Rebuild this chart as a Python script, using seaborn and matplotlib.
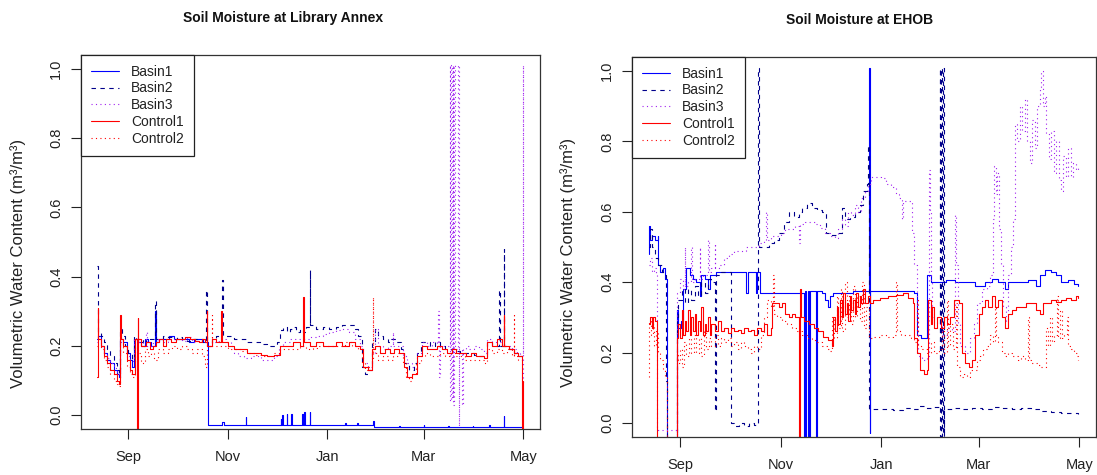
import matplotlib
matplotlib.use("Agg")
import matplotlib.pyplot as plt
import pandas as pd
import seaborn as sns
from matplotlib.lines import Line2D

sns.set_theme(style="ticks")
plt.rcParams["font.family"] = ["Liberation Sans", "DejaVu Sans"]

# ---------------- data (day offset from 2016-08-13, volumetric water content) -------------
START = pd.Timestamp("2016-08-13")
sensors = ["Basin1", "Basin2", "Basin3", "Control1", "Control2"]
month_ticks = ["2016-09-01", "2016-11-01", "2017-01-01", "2017-03-01", "2017-05-01"]
month_labels = ["Sep", "Nov", "Jan", "Mar", "May"]
y_ticks = [0.0, 0.2, 0.4, 0.6, 0.8, 1.0]

lib_basin1 = [(0, 0.22), (0.5, 0.23), (2, 0.20), (4, 0.18), (6, 0.16), (8, 0.15), (10, 0.13), (12, 0.12),
              (13.5, 0.11), (14, 0.22), (16, 0.21), (18, 0.18), (20, 0.16), (21.5, 0.14), (22.5, 0.22),
              (25, 0.21), (27, 0.20), (29, 0.22), (31, 0.21), (33, 0.20), (35.5, 0.30), (35.8, 0.21),
              (38, 0.22), (41, 0.22), (44, 0.23), (47, 0.22), (50, 0.22), (53, 0.22), (56, 0.21),
              (59, 0.22), (62, 0.22), (65, 0.21), (67.9, -0.028), (76.5, -0.02), (77.5, -0.028),
              (90.8, -0.006), (91.2, -0.028), (112.3, -0.01), (112.6, -0.028), (113.3, 0.0),
              (113.7, -0.028), (116, 0.004), (116.4, -0.028), (118.8, 0.004), (119.2, -0.028),
              (125.5, 0.004), (125.9, -0.028), (126.6, 0.01), (127, -0.028), (130.2, 0.01),
              (130.6, -0.028), (151.7, -0.022), (152.1, -0.028), (159.3, -0.024), (159.7, -0.028),
              (169, -0.018), (169.4, -0.034), (185, -0.03), (185.5, -0.034), (200, -0.029),
              (200.4, -0.034), (215, -0.03), (215.4, -0.034), (230, -0.03), (230.4, -0.034),
              (240, -0.028), (240.4, -0.034), (249, -0.003), (249.4, -0.034), (260, -0.034)]

lib_basin2 = [(0, 0.43), (0.4, 0.24), (2, 0.23), (4, 0.21), (6, 0.19), (8, 0.17), (10, 0.15), (12, 0.13),
              (13.5, 0.12), (14, 0.25), (15, 0.23), (17, 0.20), (19, 0.18), (21, 0.16), (22.5, 0.23),
              (24, 0.22), (26, 0.21), (28, 0.22), (30, 0.21), (32, 0.22), (35.5, 0.33), (35.9, 0.22),
              (38, 0.22), (40, 0.23), (43, 0.225), (46, 0.22), (49, 0.225), (52, 0.22), (55, 0.215),
              (58, 0.22), (61, 0.22), (64, 0.21), (66.7, 0.36), (67.1, 0.20), (70, 0.22), (73, 0.23),
              (76.5, 0.39), (76.9, 0.23), (80, 0.23), (84, 0.22), (88, 0.22), (92, 0.21), (96, 0.21),
              (100, 0.205), (104, 0.20), (108, 0.20), (110, 0.21), (112, 0.245), (114, 0.255),
              (116, 0.24), (118, 0.25), (120, 0.255), (122, 0.24), (124, 0.25), (126, 0.24),
              (128, 0.255), (130, 0.42), (130.4, 0.26), (134, 0.25), (138, 0.255), (142, 0.25),
              (146, 0.255), (150, 0.26), (154, 0.26), (158, 0.25), (160, 0.23), (162, 0.14),
              (164, 0.12), (166, 0.13), (168, 0.21), (170, 0.25), (172, 0.23), (175, 0.22),
              (178, 0.21), (180, 0.22), (183, 0.21), (186, 0.19), (188, 0.15), (191, 0.13),
              (194, 0.15), (196, 0.18), (198, 0.21), (201, 0.21), (204, 0.20), (207, 0.21),
              (210, 0.20), (213, 0.19), (216, 0.19), (219, 0.185), (222, 0.18), (225, 0.18),
              (228, 0.18), (231, 0.175), (234, 0.17), (237, 0.175), (239, 0.21), (242, 0.20),
              (245, 0.20), (246, 0.36), (246.4, 0.20), (249, 0.48), (249.4, 0.20), (252, 0.19),
              (255, 0.18), (258, 0.17), (260, 0.16)]

lib_basin3 = [(0, 0.21), (2, 0.20), (4, 0.18), (6, 0.165), (8, 0.15), (10, 0.135), (12, 0.12),
              (13.5, 0.11), (14, 0.21), (16, 0.20), (18, 0.17), (20, 0.155), (22.5, 0.22), (25, 0.21),
              (28, 0.20), (30, 0.24), (30.4, 0.20), (34, 0.21), (37, 0.22), (40, 0.21), (43, 0.22),
              (46, 0.22), (49, 0.22), (52, 0.215), (55, 0.225), (58, 0.21), (61, 0.215), (64, 0.21),
              (67, 0.20), (70, 0.21), (73, 0.215), (76, 0.22), (79, 0.21), (82, 0.20), (84, 0.18),
              (86, 0.17), (90, 0.165), (94, 0.17), (97, 0.17), (100, 0.16), (104, 0.16), (108, 0.17),
              (111, 0.20), (114, 0.21), (118, 0.22), (122, 0.22), (126, 0.22), (130, 0.225),
              (134, 0.23), (138, 0.235), (142, 0.24), (146, 0.245), (150, 0.25), (154, 0.24),
              (158, 0.22), (161, 0.20), (163, 0.15), (166, 0.14), (168, 0.18), (170, 0.25),
              (172, 0.20), (175, 0.19), (178, 0.20), (181, 0.24), (181.4, 0.20), (184, 0.20),
              (187, 0.17), (190, 0.15), (193, 0.14), (196, 0.18), (199, 0.21), (202, 0.20),
              (205, 0.21), (208, 0.20), (209, 0.30), (209.4, 0.11), (209.8, 0.20), (213, 0.20),
              (216, 1.01), (216.3, 0.04), (216.7, 1.01), (217.1, 0.05), (217.6, 1.01), (218, 0.03),
              (218.5, 1.01), (218.9, 0.19), (221, 1.01), (221.3, -0.03), (221.7, 0.19), (223.5, 0.03),
              (223.8, 0.19), (226, 0.20), (228, 0.19), (231, 0.20), (234, 0.19), (237, 0.18),
              (239, 0.22), (242, 0.21), (245, 0.21), (248, 0.20), (251, 0.20), (254, 0.19),
              (257, 0.18), (259, 0.17), (260.5, 1.01), (260.8, 0.09), (261.2, 0.09)]

lib_control1 = [(0, 0.11), (0.3, 0.31), (0.7, 0.22), (2, 0.20), (4, 0.17), (6, 0.15), (8, 0.13), (10, 0.12),
                (12, 0.10), (13.5, 0.09), (14, 0.29), (14.4, 0.22), (16, 0.20), (18, 0.16), (20, 0.13),
                (21.5, 0.12), (23, 0.22), (24.5, -0.05), (24.8, 0.28), (25.2, 0.22), (27, 0.20),
                (30, 0.21), (32, 0.19), (34, 0.20), (36, 0.21), (38, 0.22), (40, 0.20), (42, 0.22),
                (45, 0.21), (48, 0.22), (51, 0.22), (54, 0.225), (57, 0.22), (60, 0.215), (62, 0.21),
                (64, 0.22), (66, 0.21), (67, 0.30), (67.4, 0.20), (70, 0.22), (73, 0.21), (76, 0.30),
                (76.4, 0.21), (80, 0.20), (84, 0.19), (88, 0.19), (92, 0.18), (96, 0.18), (100, 0.175),
                (104, 0.17), (108, 0.175), (112, 0.20), (116, 0.20), (120, 0.21), (124, 0.20),
                (126, 0.34), (126.4, 0.21), (130, 0.20), (134, 0.21), (138, 0.20), (142, 0.20),
                (146, 0.21), (150, 0.20), (154, 0.21), (158, 0.20), (161, 0.19), (163, 0.14),
                (166, 0.13), (168, 0.19), (170, 0.20), (173, 0.18), (176, 0.19), (179, 0.18),
                (182, 0.19), (185, 0.18), (188, 0.14), (190, 0.11), (193, 0.12), (196, 0.17),
                (199, 0.20), (202, 0.19), (205, 0.19), (208, 0.20), (211, 0.19), (214, 0.18),
                (217, 0.19), (220, 0.18), (223, 0.18), (226, 0.17), (229, 0.18), (232, 0.17),
                (235, 0.17), (237, 0.165), (239, 0.21), (242, 0.20), (245, 0.22), (248, 0.20),
                (249, 0.29), (249.4, 0.20), (252, 0.19), (255, 0.18), (258, 0.17), (260.3, -0.05),
                (260.6, 0.10), (261, 0.10)]

lib_control2 = [(0, 0.20), (2, 0.19), (4, 0.16), (6, 0.14), (8, 0.12), (10, 0.10), (12, 0.09),
                (13.5, 0.083), (14, 0.20), (16, 0.18), (18, 0.14), (20, 0.12), (21.5, 0.11), (23, 0.20),
                (25, 0.18), (27, 0.15), (29, 0.19), (31, 0.17), (33, 0.18), (35, 0.16), (37, 0.19),
                (40, 0.18), (43, 0.19), (46, 0.20), (49, 0.19), (52, 0.20), (55, 0.19), (58, 0.18),
                (61, 0.19), (64, 0.17), (66, 0.14), (67, 0.20), (70, 0.29), (70.4, 0.20), (73, 0.20),
                (76, 0.20), (80, 0.19), (84, 0.19), (88, 0.185), (92, 0.18), (96, 0.175), (100, 0.17),
                (104, 0.17), (108, 0.18), (112, 0.19), (116, 0.19), (120, 0.19), (124, 0.20),
                (128, 0.19), (132, 0.195), (136, 0.20), (140, 0.20), (144, 0.20), (148, 0.20),
                (152, 0.21), (156, 0.20), (160, 0.19), (162, 0.15), (164, 0.13), (166, 0.14),
                (168, 0.16), (168.7, 0.34), (169.1, 0.18), (172, 0.16), (175, 0.17), (178, 0.16),
                (181, 0.17), (184, 0.18), (187, 0.15), (189, 0.11), (191, 0.10), (193, 0.12),
                (195, 0.15), (198, 0.17), (201, 0.18), (204, 0.17), (207, 0.17), (210, 0.18),
                (213, 0.17), (216, 0.18), (219, 0.17), (222, 0.17), (225, 0.16), (228, 0.16),
                (231, 0.16), (234, 0.16), (237, 0.15), (239, 0.19), (242, 0.18), (245, 0.19),
                (248, 0.18), (251, 0.19), (254, 0.17), (255, 0.29), (255.4, 0.17), (258, 0.16),
                (260, 0.15)]

ehob_basin1 = [(0, 0.48), (0.5, 0.56), (1, 0.52), (2, 0.53), (4, 0.52), (5.5, 0.53), (6, 0.45), (7, 0.43),
               (8.5, 0.44), (10, 0.41), (11, -0.05), (17, 0.32), (18, 0.27), (19.5, 0.29), (21, 0.38),
               (23, 0.44), (25, 0.42), (27, 0.41), (29, 0.40), (31, 0.36), (32, 0.42), (34, 0.41),
               (36, 0.38), (37, 0.42), (39, 0.42), (41, 0.43), (44, 0.43), (48, 0.43), (52, 0.43),
               (56, 0.43), (59, 0.37), (60, 0.43), (63, 0.43), (65, 0.37), (66, 0.43), (67.3, 0.37),
               (72, 0.37), (78, 0.37), (84, 0.37), (90, 0.37), (94.5, -0.05), (95, 0.375),
               (95.6, -0.05), (96.4, 0.375), (97, -0.05), (97.6, 0.375), (101.5, -0.05), (102, 0.375),
               (105, 0.37), (107, 0.35), (108.5, 0.33), (110, 0.36), (112, 0.37), (118, 0.37),
               (124, 0.375), (130, 0.375), (133.7, 1.01), (134, -0.03), (134.4, 0.375), (140, 0.375),
               (146, 0.375), (152, 0.375), (158, 0.375), (161, 0.37), (162.5, 0.25), (165, 0.24),
               (168.5, 0.24), (169, 0.42), (171, 0.40), (175, 0.40), (180, 0.405), (186, 0.40),
               (192, 0.40), (198, 0.39), (204, 0.40), (208, 0.41), (212, 0.40), (216, 0.38),
               (218, 0.40), (224, 0.40), (230, 0.405), (235, 0.39), (237, 0.42), (240, 0.435),
               (244, 0.43), (247, 0.42), (250, 0.40), (254, 0.405), (258, 0.395), (260.5, 0.39)]

ehob_basin2 = [(0, 0.50), (1, 0.55), (2, 0.50), (4, 0.47), (6, 0.45), (8, 0.43), (10, 0.42), (10.8, 0.12),
               (11.2, -0.05), (17, 0.30), (18, 0.35), (20, 0.38), (22, 0.34), (24, 0.38), (26, 0.35),
               (28, 0.39), (30, 0.36), (32, 0.40), (34, 0.37), (36, 0.41), (38, 0.40), (40.5, 0.035),
               (41, 0.42), (44, 0.43), (47, 0.43), (49.8, 0.0), (52, -0.01), (55, 0.0), (58, -0.01),
               (61, 0.0), (64, -0.005), (66.5, 1.01), (67, 0.50), (70, 0.50), (73, 0.51), (76, 0.52),
               (79, 0.54), (82, 0.57), (85, 0.60), (88, 0.585), (91, 0.60), (93, 0.61), (96, 0.625),
               (99, 0.61), (102, 0.605), (105, 0.60), (107.5, 0.54), (110, 0.535), (114, 0.54),
               (117, 0.61), (119, 0.58), (122, 0.585), (125, 0.60), (128, 0.62), (130, 0.66),
               (132.5, 0.68), (133.3, 0.79), (133.6, 0.04), (136, 0.04), (142, 0.04), (148, 0.038),
               (154, 0.042), (160, 0.04), (164, 0.047), (168, 0.042), (172, 0.044), (176.5, 1.01),
               (176.8, -0.05), (177.3, 1.01), (177.6, -0.05), (178.5, 1.01), (178.8, -0.05),
               (179.2, 0.04), (184, 0.042), (190, 0.04), (196, 0.043), (202, 0.041), (208, 0.045),
               (214, 0.043), (220, 0.04), (226, 0.043), (232, 0.04), (238, 0.035), (244, 0.032),
               (250, 0.027), (256, 0.028), (260.5, 0.025)]

ehob_basin3 = [(0, 0.45), (1, 0.47), (2, 0.43), (3.5, 0.44), (4.8, 0.42), (5, -0.02), (11, -0.02), (17, 0.37),
               (19, 0.41), (21, 0.38), (22, 0.50), (22.4, 0.39), (24, 0.40), (26, 0.50), (26.4, 0.40),
               (28, 0.41), (31, 0.50), (31.4, 0.41), (33, 0.42), (36, 0.52), (36.4, 0.43), (38, 0.44),
               (40, 0.51), (40.4, 0.44), (43, 0.45), (46, 0.47), (49, 0.48), (52, 0.49), (55, 0.49),
               (59, 0.50), (63, 0.50), (67, 0.51), (70, 0.52), (71.5, 0.60), (71.9, 0.52), (74, 0.53),
               (77, 0.53), (80, 0.54), (83, 0.55), (86, 0.55), (89, 0.56), (91.5, 0.51), (92, 0.565),
               (95, 0.57), (98, 0.57), (101, 0.565), (104, 0.555), (107, 0.54), (110, 0.53),
               (113, 0.525), (115, 0.55), (117, 0.58), (119, 0.56), (121, 0.60), (123, 0.59),
               (125, 0.62), (127, 0.60), (129, 0.64), (131, 0.66), (133, 0.68), (135, 0.70),
               (138, 0.70), (141, 0.695), (144, 0.68), (147, 0.67), (150, 0.65), (152, 0.64),
               (153.7, 0.58), (154, 0.63), (157, 0.63), (159.5, 0.54), (161, 0.45), (162.5, 0.30),
               (163.5, 0.19), (166, 0.18), (169, 0.19), (170, 0.72), (170.5, 0.60), (171, 0.40),
               (172, 0.30), (175, 0.28), (178, 0.25), (181, 0.27), (184, 0.26), (186, 0.59),
               (186.5, 0.45), (187.5, 0.28), (189, 0.22), (192, 0.20), (195, 0.24), (197, 0.28),
               (199, 0.34), (202, 0.38), (205, 0.39), (207, 0.42), (208.5, 0.58), (209.5, 0.73),
               (210.5, 0.65), (211.5, 0.71), (212.5, 0.55), (213.5, 0.45), (215, 0.33), (216.5, 0.29),
               (218, 0.42), (219.5, 0.50), (221, 0.58), (222, 0.85), (223.5, 0.80), (225, 0.90),
               (226.5, 0.83), (228, 0.92), (229.5, 0.80), (231, 0.74), (232.5, 0.86), (234, 0.78),
               (235.5, 0.90), (237, 0.95), (238, 1.00), (239, 0.90), (240, 0.93), (241, 0.82),
               (242.5, 0.75), (244, 0.83), (245.5, 0.71), (247, 0.80), (248.5, 0.69), (250, 0.66),
               (251.5, 0.76), (253, 0.70), (254.5, 0.78), (256, 0.70), (257.5, 0.74), (259, 0.72),
               (260.5, 0.73)]

ehob_control1 = [(0, 0.28), (1, 0.30), (2, 0.27), (3, 0.30), (4, 0.29), (5, -0.05), (17, 0.24), (18, 0.28),
                 (19, 0.24), (20, 0.32), (21, 0.25), (22, 0.29), (23, 0.26), (24, 0.32), (25, 0.25),
                 (26, 0.30), (27, 0.26), (28, 0.31), (29, 0.25), (30, 0.29), (31, 0.26), (32, 0.33),
                 (33, 0.25), (34, 0.28), (35, 0.26), (36, 0.30), (37, 0.25), (38, 0.28), (40, 0.26),
                 (42, 0.29), (44, 0.26), (46, 0.27), (48, 0.255), (50, 0.27), (52, 0.26), (54, 0.265),
                 (56, 0.255), (58, 0.27), (60, 0.26), (62, 0.265), (64, 0.25), (66, 0.27), (68, 0.26),
                 (70, 0.28), (72, 0.25), (74, 0.27), (75, 0.34), (77, 0.34), (79, 0.33), (81, 0.34),
                 (83, 0.31), (85, 0.30), (87, 0.31), (89, 0.30), (91.5, -0.05), (91.8, 0.38),
                 (92.3, 0.30), (94, 0.29), (97, 0.28), (100, 0.27), (103, 0.26), (106, 0.245),
                 (109, 0.235), (111.5, 0.22), (112, 0.30), (113, 0.26), (114, 0.33), (115, 0.28),
                 (116, 0.35), (117, 0.30), (118, 0.37), (119, 0.31), (120, 0.34), (121, 0.29),
                 (122, 0.36), (123, 0.32), (124, 0.35), (125, 0.31), (126, 0.37), (127, 0.33),
                 (128, 0.36), (129, 0.34), (130, 0.38), (131, 0.34), (133, 0.36), (134, 0.34),
                 (136, 0.35), (140, 0.355), (145, 0.36), (150, 0.365), (154, 0.37), (157, 0.355),
                 (160, 0.34), (161, 0.24), (163, 0.20), (164.5, 0.15), (167, 0.14), (169, 0.15),
                 (169.5, 0.35), (171, 0.28), (172, 0.33), (173, 0.27), (175, 0.30), (177, 0.27),
                 (179, 0.30), (181, 0.28), (183, 0.30), (185, 0.35), (188, 0.34), (190, 0.20),
                 (192, 0.17), (194, 0.16), (196, 0.18), (198, 0.25), (200, 0.31), (202, 0.33),
                 (204, 0.35), (206, 0.33), (208, 0.36), (210, 0.33), (212, 0.35), (214, 0.30),
                 (216, 0.27), (218, 0.31), (220, 0.32), (223, 0.33), (226, 0.33), (229, 0.34),
                 (232, 0.34), (235, 0.32), (237, 0.31), (239, 0.34), (241, 0.34), (244, 0.35),
                 (247, 0.345), (250, 0.35), (253, 0.355), (256, 0.35), (259, 0.36), (260.5, 0.355)]

ehob_control2 = [(0, 0.13), (0.5, 0.29), (1.5, 0.25), (2.5, 0.28), (3.5, 0.22), (4.5, 0.26), (5.5, 0.20),
                 (7, 0.18), (8.5, 0.15), (10, 0.13), (11, -0.05), (17, 0.20), (18, 0.17), (19, 0.21),
                 (20, 0.16), (21.5, 0.23), (23, 0.19), (24.5, 0.24), (26, 0.20), (27.5, 0.25), (29, 0.20),
                 (30.5, 0.24), (32, 0.19), (33.5, 0.26), (35, 0.21), (36.5, 0.24), (38, 0.22), (40, 0.25),
                 (42, 0.22), (44, 0.24), (46, 0.23), (48, 0.24), (50, 0.22), (52, 0.23), (54, 0.21),
                 (56, 0.23), (58, 0.22), (60, 0.21), (62, 0.20), (64, 0.22), (66, 0.21), (68, 0.25),
                 (70, 0.30), (72, 0.35), (74, 0.33), (75.5, 0.42), (76, 0.31), (78, 0.30), (81, 0.29),
                 (84, 0.28), (87, 0.27), (90, 0.26), (93, 0.25), (96, 0.24), (99, 0.235), (102, 0.23),
                 (105, 0.22), (108, 0.21), (110, 0.205), (111.5, 0.30), (112.5, 0.24), (114, 0.36),
                 (115, 0.27), (116.5, 0.38), (117.5, 0.26), (119, 0.40), (120, 0.30), (121.5, 0.36),
                 (122.5, 0.28), (124, 0.39), (125, 0.30), (126.5, 0.36), (128, 0.29), (129.5, 0.40),
                 (130.5, 0.27), (132, 0.33), (133.5, 0.24), (136, 0.245), (140, 0.25), (144, 0.245),
                 (148, 0.25), (150, 0.40), (150.5, 0.26), (153, 0.25), (156, 0.25), (159, 0.24),
                 (161, 0.23), (163, 0.35), (163.5, 0.22), (166, 0.21), (169, 0.20), (171, 0.23),
                 (173, 0.20), (176, 0.21), (178, 0.27), (179, 0.20), (181, 0.35), (181.5, 0.22),
                 (183, 0.28), (184.5, 0.21), (186.5, 0.34), (187, 0.16), (189, 0.13), (191, 0.14),
                 (193, 0.13), (195, 0.15), (197, 0.15), (199, 0.18), (201, 0.19), (203, 0.21),
                 (205, 0.22), (207, 0.25), (209, 0.23), (210, 0.33), (210.5, 0.25), (212, 0.23),
                 (214, 0.20), (216, 0.19), (218, 0.20), (220, 0.19), (222, 0.19), (224, 0.18),
                 (226, 0.19), (228, 0.18), (230, 0.30), (230.5, 0.18), (232, 0.17), (234, 0.17),
                 (236, 0.165), (238, 0.16), (240.5, 0.16), (241, 0.27), (242, 0.22), (243.5, 0.30),
                 (244.5, 0.23), (246, 0.25), (247.5, 0.36), (248, 0.24), (249.5, 0.32), (250.5, 0.24),
                 (252, 0.25), (253.5, 0.30), (254.5, 0.22), (256, 0.21), (258, 0.20), (259.5, 0.19),
                 (260.5, 0.18)]

library_annex = {"Basin1": lib_basin1, "Basin2": lib_basin2, "Basin3": lib_basin3,
                 "Control1": lib_control1, "Control2": lib_control2}
ehob = {"Basin1": ehob_basin1, "Basin2": ehob_basin2, "Basin3": ehob_basin3,
        "Control1": ehob_control1, "Control2": ehob_control2}

# ---------------- styles -------------
palette = {"Basin1": "#0000FF", "Basin2": "#00008B", "Basin3": "#A020F0",
           "Control1": "#FF0000", "Control2": "#FF0000"}
dash_map = {"Basin1": "", "Basin2": (4, 4), "Basin3": (1, 3), "Control1": "", "Control2": (1, 3)}
ls_map = {"Basin1": "-", "Basin2": (0, (4, 4)), "Basin3": (0, (1, 3)), "Control1": "-", "Control2": (0, (1, 3))}


def to_frame(site):
    rows = []
    for name in sensors:
        for d, v in site[name]:
            rows.append({"date": START + pd.Timedelta(days=d), "vwc": v, "sensor": name})
    return pd.DataFrame(rows)


W, H = 1097, 475
fig = plt.figure(figsize=(W / 100, H / 100), dpi=100)
fig.patch.set_facecolor("white")

panels = [
    (library_annex, (81, 55, 540, 429), "Soil Moisture at Library Annex", 283, 18, 18, 263),
    (ehob, (632, 57, 1096, 437), "Soil Moisture at EHOB", 860, 20, 568, 262),
]

for site, (x0, y0, x1, y1), title, tx, ty, ylx, yly in panels:
    ax = fig.add_axes([x0 / W, 1 - y1 / H, (x1 - x0) / W, (y1 - y0) / H])
    ax.set_facecolor("white")
    df = to_frame(site)
    sns.lineplot(data=df, x="date", y="vwc", hue="sensor", style="sensor",
                 hue_order=sensors, style_order=sensors, palette=palette, dashes=dash_map,
                 estimator=None, sort=False, linewidth=0.8, drawstyle="steps-post",
                 legend=False, ax=ax)
    ax.set_xlim(START + pd.Timedelta(days=-10), START + pd.Timedelta(days=271.2))
    ax.set_ylim(-0.04, 1.04)
    ax.set_xticks(pd.to_datetime(month_ticks))
    ax.set_xticklabels(month_labels)
    ax.set_yticks(y_ticks)
    ax.set_yticklabels([f"{t:.1f}" for t in y_ticks], rotation=90, va="center")
    ax.tick_params(direction="out", length=7, width=0.8, colors="#222222", labelsize=10.5,
                   labelcolor="#222222")
    ax.tick_params(axis="x", pad=8)
    ax.tick_params(axis="y", pad=6)
    ax.set_xlabel("")
    ax.set_ylabel("Volumetric Water Content (m³/m³)", fontsize=12, color="#222222")
    ax.yaxis.label.set_va("center")
    ax.yaxis.set_label_coords((ylx - x0) / (x1 - x0), (y1 - yly) / (y1 - y0))
    for sp in ax.spines.values():
        sp.set_visible(True)
        sp.set_color("#333333")
        sp.set_linewidth(0.9)
    ax.grid(False)

    handles = [Line2D([], [], color=palette[s], linestyle=ls_map[s], linewidth=0.8) for s in sensors]
    leg = ax.legend(handles, sensors, loc="upper left", bbox_to_anchor=(0, 1), borderaxespad=0,
                    frameon=True, fancybox=False, edgecolor="#222222", framealpha=1,
                    fontsize=10, handlelength=2.0, handletextpad=0.9, labelspacing=0.2,
                    borderpad=0.7)
    leg.get_frame().set_linewidth(0.9)
    for t in leg.get_texts():
        t.set_color("#222222")

    fig.text(tx / W, 1 - ty / H, title, ha="center", va="center", fontsize=10,
             fontweight="bold", color="#111111")

fig.savefig("out.png", dpi=100, facecolor="white")
